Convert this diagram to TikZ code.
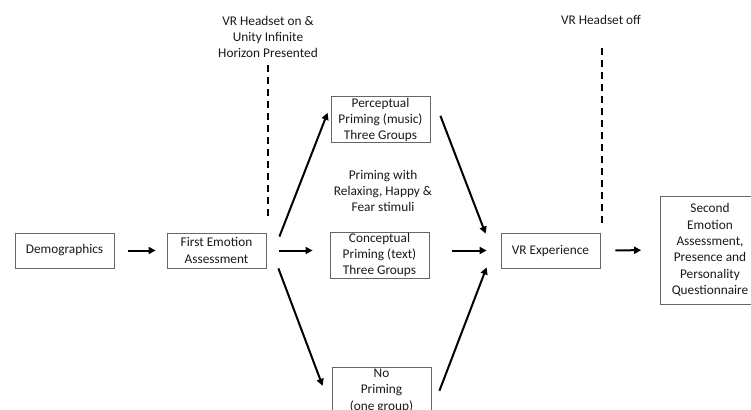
\documentclass[tikz,border=0pt]{standalone}
\usepackage{fontspec}
\setmainfont{Carlito}
\usetikzlibrary{arrows.meta}

\newcommand{\topstrut}{\rule{0pt}{12pt}}

\begin{document}
\begin{tikzpicture}[x=1pt,y=-1pt,
    font=\fontsize{13.3}{16.3}\selectfont,
    stagebox/.style={draw=black!60,line width=0.8pt,inner sep=0pt,
      minimum width=99pt,minimum height=35pt,align=center,text=black!90},
    tallbox/.style={stagebox,minimum height=46pt,execute at begin node=\topstrut},
    flow/.style={line width=2pt,-{Triangle[length=7pt,width=7pt]}},
    marker/.style={line width=2pt,dash pattern=on 7pt off 5pt},
    note/.style={align=center,text=black!90,inner sep=0pt}]
    \useasboundingbox (0,0) rectangle (751,409);
    \clip (0,0) rectangle (751,409);

    \node[stagebox] (demo) at (64.5,250.5) {Demographics};
    \node[stagebox] (fea) at (216.5,250.5) {First Emotion\\Assessment};
    \node[tallbox] (pp) at (380.5,119.8) {Perceptual\\Priming (music)\\Three Groups};
    \node[tallbox] (cp) at (379.5,255) {Conceptual\\Priming (text)\\Three Groups};
    \node[tallbox] (np) at (381.5,390.8) {No\\Priming\\(one group)};
    \node[stagebox] (vr) at (550.5,250.5) {VR Experience};
    \node[stagebox,minimum height=108pt] (sec) at (710,250)
      {Second\\Emotion\\Assessment,\\Presence and\\Personality\\Questionnaire};

    \node[note] (hson) at (268,37) {VR Headset on \&\\Unity Infinite\\Horizon Presented};
    \node[note] (hsoff) at (601,20) {VR Headset off};
    \node[note] (stim) at (383,191) {Priming with\\Relaxing, Happy \&\\Fear stimuli};

    \coordinate (ontop) at (268,65);
    \coordinate (onend) at (268,217);
    \coordinate (offtop) at (602,48);
    \coordinate (offend) at (602,223);
    \draw[marker] (ontop) -- (onend);
    \draw[marker] (offtop) -- (offend);

    \draw[flow,shorten <=14pt,shorten >=11pt] (demo) -- (fea);
    \draw[flow,shorten <=13pt,shorten >=17pt] (fea) -- (fea -| cp.west);
    \draw[flow,shorten <=23pt,shorten >=14pt] (cp.east |- vr) -- (vr);
    \draw[flow,shorten <=15pt,shorten >=19pt] (vr) -- (sec);

    \draw[flow] ([shift={(13,4)}]fea.north east) -- ([shift={(-3,-7)}]pp.west);
    \draw[flow] ([shift={(12,0)}]fea.south east) -- ([shift={(-9,-5)}]np.west);
    \draw[flow] ([shift={(10,-4)}]pp.east) -- ([shift={(-15,1)}]vr.north west);
    \draw[flow] ([shift={(8,0)}]np.east) -- ([shift={(-14,-1)}]vr.south west);
\end{tikzpicture}
\end{document}
